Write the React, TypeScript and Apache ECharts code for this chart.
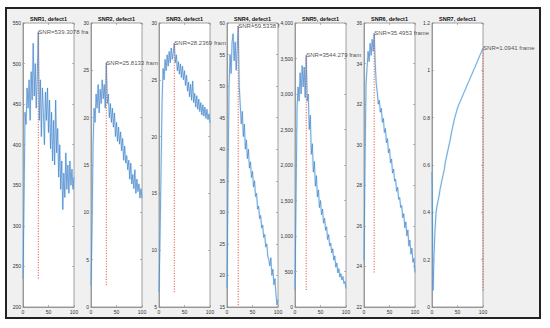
import React, { useEffect, useRef } from "react";
import * as echarts from "echarts";

const frames = [0, 2, 4, 6, 8, 10, 12, 14, 16, 18, 20, 22, 24, 26, 28, 30, 32, 34, 36, 38, 40, 42, 44, 46, 48, 50, 52, 54, 56, 58, 60, 62, 64, 66, 68, 70, 72, 74, 76, 78, 80, 82, 84, 86, 88, 90, 92, 94, 96, 98, 100];

const titles = ["SNR1, defect1", "SNR2, defect1", "SNR3, defect1", "SNR4, defect1", "SNR5, defect1", "SNR6, defect1", "SNR7, defect1"];

const snr1 = [235, 330, 440, 425, 470, 445, 480, 430, 490, 455, 525, 460, 500, 445, 485, 539.3078, 430, 480, 410, 470, 440, 400, 465, 430, 470, 415, 455, 395, 440, 380, 430, 375, 455, 390, 420, 360, 400, 345, 380, 320, 365, 335, 390, 345, 375, 340, 380, 350, 370, 345, 360];
const snr2 = [2.3, 8, 17, 21, 19.5, 22.5, 21, 23.5, 20.5, 23, 21.5, 24, 22, 23.5, 21, 25.8133, 21.5, 22.5, 20, 21.5, 19.5, 21, 19, 20.5, 18, 19.5, 17.5, 19, 17.2, 18.5, 16.5, 17.8, 15.5, 17, 15.2, 16, 14.5, 15.5, 13.5, 15.2, 13, 14, 12.5, 14.5, 12, 13.5, 12.2, 13, 11.5, 12.5, 11.5];
const snr3 = [6.3, 11, 17, 23, 26, 25, 26.8, 25.8, 27.2, 26.2, 27.5, 26.5, 27.8, 26.8, 27.4, 28.2369, 26.5, 27.2, 25.8, 26.6, 25.5, 26.4, 25.2, 26.2, 25, 25.8, 24.5, 25.4, 24, 24.8, 23.5, 24.6, 23.2, 24.9, 23, 23.8, 22.6, 23.6, 22.4, 23.3, 22.2, 23, 21.9, 22.8, 21.8, 22.6, 21.6, 22.4, 21.5, 22, 21.2];
const snr4 = [18, 35, 50, 55, 52, 57, 58.3, 54, 57, 52.5, 56, 59.5338, 50, 47, 44, 46, 42, 44, 40, 41.5, 38.5, 40, 37, 38, 35.5, 36.5, 34, 35, 32.5, 33, 30.5, 31, 29, 29.5, 27.5, 28, 26, 26.5, 24.5, 25, 23, 22.5, 21.5, 22.8, 20, 21, 18.5, 19.5, 17, 15.3, 16.2];
const snr5 = [240, 1500, 2800, 3100, 2900, 3300, 3000, 3400, 3100, 3380, 2950, 3544.279, 2900, 3000, 2500, 2700, 2150, 2300, 1900, 2050, 1700, 1850, 1550, 1650, 1400, 1500, 1300, 1380, 1180, 1250, 1080, 1130, 950, 1020, 860, 900, 760, 820, 660, 720, 560, 620, 480, 540, 420, 470, 380, 430, 330, 360, 260];
const snr6 = [24.3, 29, 33, 33.8, 34.6, 34.1, 35, 34.4, 35.2, 34.6, 35.4953, 34, 33, 32.6, 32, 32.2, 31.6, 31.8, 31.1, 31.3, 30.6, 30.8, 30.1, 30.3, 29.6, 29.8, 29.1, 29.3, 28.6, 28.8, 28.2, 28.3, 27.7, 27.9, 27.3, 27.4, 26.9, 27, 26.4, 26.6, 25.9, 26.2, 25.5, 25.8, 25, 25.3, 24.6, 24.9, 24.2, 24.4, 23.7];
const snr7 = [0.57, 0.07, 0.22, 0.33, 0.4, 0.43, 0.45, 0.47, 0.5, 0.52, 0.54, 0.56, 0.58, 0.61, 0.63, 0.65, 0.67, 0.69, 0.71, 0.735, 0.755, 0.775, 0.795, 0.81, 0.825, 0.84, 0.852, 0.862, 0.872, 0.882, 0.892, 0.903, 0.912, 0.922, 0.933, 0.943, 0.952, 0.963, 0.973, 0.982, 0.993, 1.003, 1.012, 1.023, 1.033, 1.043, 1.053, 1.064, 1.074, 1.083, 1.0941];

const yMins = [200, 0, 5, 15, 0, 22, 0];
const yMaxs = [550, 30, 30, 60, 4000, 36, 1.2];
const yIntervals = [50, 5, 5, 5, 500, 2, 0.2];
const peakLabels = ["539.3078", "25.8133", "28.2369", "59.5338", "3544.279", "35.4953", "1.0941"];
const peakFrames = [30, 30, 30, 22, 22, 20, 100];

const allSeries = [snr1, snr2, snr3, snr4, snr5, snr6, snr7];

// layout (pixels)
const gridLefts = [23, 91, 159, 227, 295, 364, 432];
const gridW = 51;
const gridTop = 23;
const gridH = 284;
const figRight = 539;
const FONT = '"Liberation Sans", Arial, Helvetica, sans-serif';
const axisColor = "#8a8a8a";

export default function App() {
  const ref = useRef<HTMLDivElement>(null);
  useEffect(() => {
    const chart = echarts.init(ref.current!, null, { renderer: "svg" });
    const grid: any[] = [];
    const xAxis: any[] = [];
    const yAxis: any[] = [];
    const series: any[] = [];
    const graphic: any[] = [];

    allSeries.forEach((vals, i) => {
      const left = gridLefts[i];
      grid.push({
        left,
        top: gridTop,
        width: gridW,
        height: gridH,
        show: true,
        backgroundColor: "#ffffff",
        borderColor: axisColor,
        borderWidth: 0.8,
        containLabel: false,
      });
      const tick = { show: true, inside: true, length: 2, lineStyle: { color: axisColor, width: 0.6 } };
      xAxis.push({
        gridIndex: i,
        type: "value",
        min: 0,
        max: 100,
        interval: 50,
        axisLine: { show: true, onZero: false, lineStyle: { color: axisColor, width: 0.8 } },
        axisTick: tick,
        axisLabel: { fontSize: 5, color: "#333", margin: 2.5, fontFamily: FONT },
        splitLine: { show: false },
      });
      xAxis.push({
        gridIndex: i,
        type: "value",
        position: "top",
        min: 0,
        max: 100,
        interval: 50,
        axisLine: { show: false, onZero: false },
        axisTick: tick,
        axisLabel: { show: false },
        splitLine: { show: false },
      });
      yAxis.push({
        gridIndex: i,
        type: "value",
        min: yMins[i],
        max: yMaxs[i],
        interval: yIntervals[i],
        axisLine: { show: true, onZero: false, lineStyle: { color: axisColor, width: 0.8 } },
        axisTick: tick,
        axisLabel: { fontSize: 5, color: "#333", margin: 2, fontFamily: FONT },
        splitLine: { show: false },
      });
      yAxis.push({
        gridIndex: i,
        type: "value",
        position: "right",
        min: yMins[i],
        max: yMaxs[i],
        interval: yIntervals[i],
        axisLine: { show: false, onZero: false },
        axisTick: tick,
        axisLabel: { show: false },
        splitLine: { show: false },
      });

      const data = frames.map((f, k) => [f, vals[k]]);
      const xi = 2 * i;
      const yi = 2 * i;
      series.push({
        type: "line",
        xAxisIndex: xi,
        yAxisIndex: yi,
        data,
        showSymbol: false,
        symbol: "none",
        silent: true,
        lineStyle: { color: "rgba(150,225,250,0.35)", width: 2.2 },
        z: 2,
      });
      series.push({
        type: "line",
        xAxisIndex: xi,
        yAxisIndex: yi,
        data,
        showSymbol: false,
        symbol: "none",
        silent: true,
        lineStyle: { color: "#4a80c8", width: 0.7 },
        z: 3,
      });
      const mn = Math.min(...vals);
      const mx = Math.max(...vals);
      const pf = peakFrames[i];
      series.push({
        type: "line",
        xAxisIndex: xi,
        yAxisIndex: yi,
        data: [[pf, mn], [pf, mx]],
        showSymbol: false,
        symbol: "none",
        silent: true,
        clip: false,
        lineStyle: { color: "#e0553d", width: 1, type: [1.1, 1.5] },
        z: 4,
      });
      const startX = left + (pf / 100) * gridW;
      const labelY = gridTop + ((yMaxs[i] - mx) / (yMaxs[i] - yMins[i])) * gridH;
      let nextLeft = i < allSeries.length - 1 ? gridLefts[i + 1] : figRight;
      // keep clear of the neighbour's top tick label when the annotation sits at that height
      if (i < allSeries.length - 1 && labelY - gridTop < 7) nextLeft -= 14;
      series.push({
        type: "scatter",
        xAxisIndex: xi,
        yAxisIndex: yi,
        data: [[pf, mx]],
        symbolSize: 0.1,
        silent: true,
        clip: false,
        itemStyle: { color: "rgba(0,0,0,0)" },
        label: {
          show: true,
          position: "right",
          distance: 0,
          formatter: `SNR=${peakLabels[i]} frame=${pf}`,
          fontSize: 6,
          color: "#222",
          fontFamily: FONT,
          width: Math.max(1, nextLeft - startX),
          overflow: "truncate",
          ellipsis: "",
        },
        z: 5,
      });

      graphic.push({
        type: "text",
        x: left + gridW / 2,
        y: gridTop - 1,
        style: {
          text: titles[i],
          fill: "#111",
          font: `bold 5.5px ${FONT}`,
          align: "center",
          verticalAlign: "bottom",
        },
        z: 10,
      });
    });

    chart.setOption({
      animation: false,
      backgroundColor: "transparent",
      grid,
      xAxis,
      yAxis,
      series,
      graphic,
    });
    return () => chart.dispose();
  }, []);

  return (
    <div style={{ position: "absolute", left: 0, top: 0, width: 550, height: 328, background: "#ffffff", overflow: "hidden" }}>
      <div
        style={{
          position: "absolute",
          left: 5,
          top: 7,
          width: 536,
          height: 312,
          boxSizing: "border-box",
          border: "2px solid #222",
          background: "#f0f0f0",
        }}
      />
      <div ref={ref} style={{ position: "absolute", left: 0, top: 0, width: 550, height: 328 }} />
    </div>
  );
}
